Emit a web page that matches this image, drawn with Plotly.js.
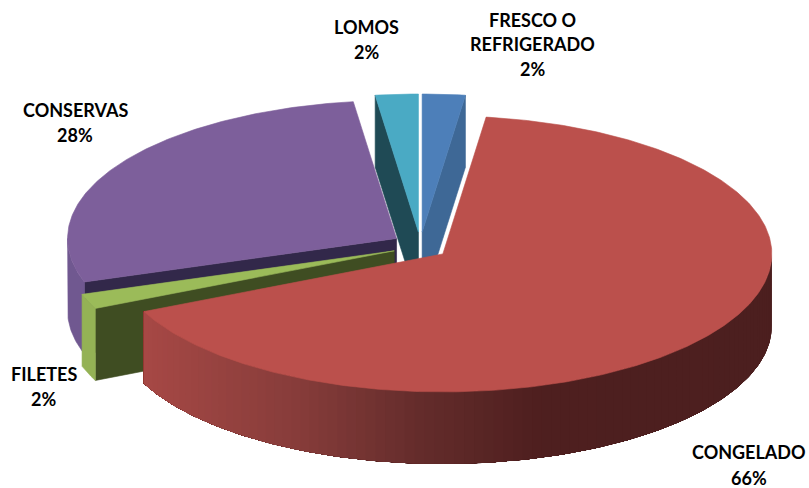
<!DOCTYPE html>
<html><head><meta charset="utf-8">
<script src="https://cdn.plot.ly/plotly-3.0.1.min.js"></script>
<style>html,body{margin:0;padding:0;background:#fff}#c{width:809px;height:488px}</style>
</head><body><div id="c"></div>
<script>
var categories = ["FRESCO O REFRIGERADO","CONGELADO","FILETES","CONSERVAS","LOMOS"];
var values = [2.1,66.04,1.75,28.01,2.1];
var labelLines = [["FRESCO O","REFRIGERADO"],["CONGELADO"],["FILETES"],["CONSERVAS"],["LOMOS"]];
var topColors = ["#4d7fb9","#bb504c","#9bbb59","#7d5f9b","#4aaac4"];
var cutColors = ["#3e6896","#8a3a38","#3f4d22","#32284a","#1f4a55"];
var wallColors = ["#3e6896","#8a3a38","#94b255","#705890","#1f4a55"];
var labelAnchor = [[532,[20,44,69]],[749,[452,478]],[43.5,[374,399]],[75,[110,135]],[366.5,[27,52]]];

var CX=420.3, CY=245.75, RX=329, RY=138, DEPTH=72, EX=28, EY=13.75;
var total = values.reduce(function(a,b){return a+b;},0);
var traces = [];
function rad(d){return d*Math.PI/180;}
var acc=0;
var slices = values.map(function(v,i){
  var a0=acc/total*360; acc+=v; var a1=acc/total*360; var m=(a0+a1)/2;
  return {i:i,a0:a0,a1:a1,ax:CX+EX*Math.sin(rad(m)),ay:CY-EY*Math.cos(rad(m))};
});
function pt(s,a,dz){return [s.ax+RX*Math.sin(rad(a)), s.ay-RY*Math.cos(rad(a))+(dz||0)];}
function poly(pts,color,lw){
  var xs=pts.map(function(p){return p[0];}), ys=pts.map(function(p){return p[1];});
  xs.push(xs[0]); ys.push(ys[0]);
  traces.push({type:"scatter",mode:"lines",x:xs,y:ys,fill:"toself",fillcolor:color,
    line:{color:color,width:lw===undefined?0.6:lw},hoverinfo:"skip",showlegend:false});
}
function arc(s,a0,a1,dz){var n=Math.max(2,Math.ceil(Math.abs(a1-a0)*1.5)),o=[];
  for(var k=0;k<=n;k++)o.push(pt(s,a0+(a1-a0)*k/n,dz));return o;}
function lerp(stops,t){
  for(var k=1;k<stops.length;k++){ if(t<=stops[k][0]||k==stops.length-1){
    var a=stops[k-1],b=stops[k],f=Math.min(1,Math.max(0,(t-a[0])/(b[0]-a[0])));
    return "rgb("+[1,2,3].map(function(j){return Math.round(a[j]+(b[j]-a[j])*f);}).join(",")+")";
  }}
}
var redStops=[[145,166,72,69],[300,134,60,58],[420,100,44,43],[540,78,31,31],[772,76,31,31]];

function drawSlice(s){
  var i=s.i, A=[s.ax,s.ay], Ab=[s.ax,s.ay+DEPTH];
  // cut faces turned toward the viewer
  if(s.a1<180){ poly([A,pt(s,s.a1),pt(s,s.a1,DEPTH),Ab],cutColors[i]); }
  if(s.a0>180){ poly([A,pt(s,s.a0),pt(s,s.a0,DEPTH),Ab],cutColors[i]); }
  // outer wall on the front half
  var w0=Math.max(s.a0,90), w1=Math.min(s.a1,270);
  if(w1>w0){
    if(i==1){
      // painted from the far right to the left end, each strip running on to the end
      var n=90, hi=w1;
      for(var k=0;k<n;k++){
        var b0=w0+(w1-w0)*k/n, b1=w0+(w1-w0)*(k+1)/n;
        var mx=s.ax+RX*Math.sin(rad((b0+b1)/2));
        poly(arc(s,b0,hi,0).concat(arc(s,hi,b0,DEPTH)),lerp(redStops,mx),0);
      }
    } else {
      poly(arc(s,w0,w1,0).concat(arc(s,w1,w0,DEPTH)),wallColors[i]);
    }
  }
}
function drawTop(s){ poly([[s.ax,s.ay]].concat(arc(s,s.a0,s.a1,0)),topColors[s.i]); }

[4,0,3,2,1].forEach(function(i){ drawSlice(slices[i]); drawTop(slices[i]); });

var annotations=[];
values.forEach(function(v,i){
  var lines=labelLines[i].concat([Math.round(v/total*100)+"%"]);
  lines.forEach(function(t,k){
    annotations.push({x:labelAnchor[i][0],y:labelAnchor[i][1][k],xref:"x",yref:"y",text:"<b>"+t+"</b>",
      showarrow:false,xanchor:"center",yanchor:"middle",font:{family:"Lato, Carlito, sans-serif",size:18,color:"#000"}});
  });
});
Plotly.newPlot("c",traces,{
  width:809,height:488,margin:{l:0,r:0,t:0,b:0,pad:0},paper_bgcolor:"#fff",plot_bgcolor:"#fff",showlegend:false,
  xaxis:{range:[0,809],visible:false,fixedrange:true},
  yaxis:{range:[488,0],visible:false,fixedrange:true},
  annotations:annotations
},{displayModeBar:false,staticPlot:true});
</script></body></html>
